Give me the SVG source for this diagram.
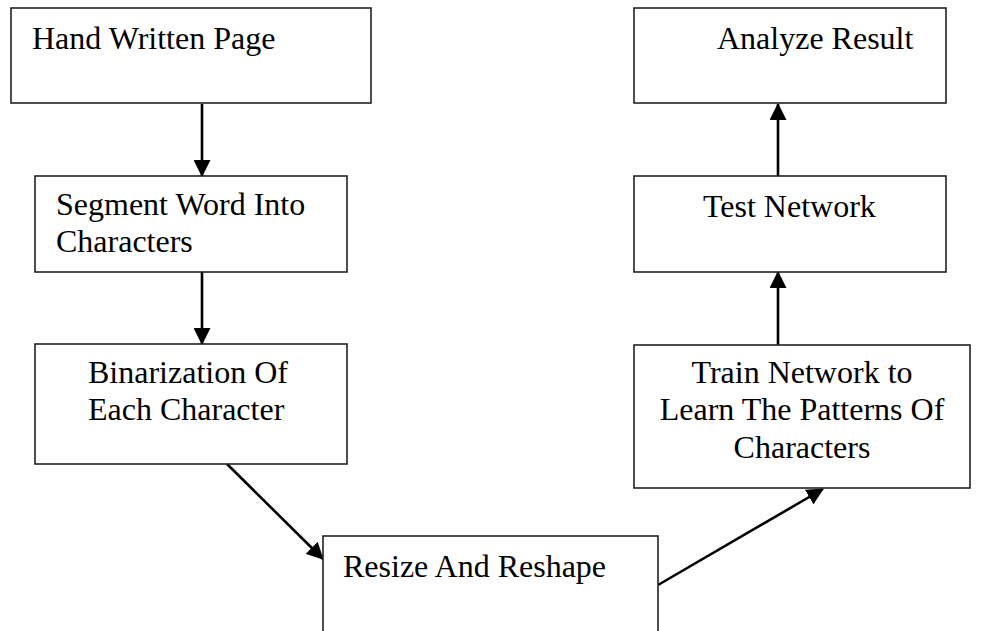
<svg xmlns="http://www.w3.org/2000/svg" width="984" height="631" viewBox="0 0 984 631">
  <defs>
    <style>
      .box { fill: #ffffff; stroke: #222222; stroke-width: 1.6; }
      .lbl { font-family: "Liberation Serif", "Times New Roman", serif; font-size: 32px; fill: #000000; }
      .mid { text-anchor: middle; }
      .edge { stroke: #000000; stroke-width: 2.6; fill: none; marker-end: url(#arrow); }
    </style>
    <marker id="arrow" markerWidth="17" markerHeight="17" viewBox="0 0 17 17" refX="16" refY="8.5" orient="auto" markerUnits="userSpaceOnUse">
      <path d="M0,0 L17,8.5 L0,17 Z" fill="#000000"/>
    </marker>
  </defs>
  <rect width="984" height="631" fill="#ffffff"/>

  <g id="connectors">
    <line class="edge" x1="202" y1="104" x2="202" y2="176"/>
    <line class="edge" x1="202" y1="272" x2="202" y2="344"/>
    <line class="edge" x1="227" y1="464" x2="323" y2="559"/>
    <line class="edge" x1="658" y1="585" x2="823" y2="489"/>
    <line class="edge" x1="778" y1="345" x2="778" y2="272"/>
    <line class="edge" x1="778" y1="176" x2="778" y2="104"/>
  </g>

  <g id="node-hand-written-page">
    <rect class="box" x="11" y="8" width="360" height="95"/>
    <text class="lbl" x="32" y="49">Hand Written Page</text>
  </g>

  <g id="node-segment">
    <rect class="box" x="35" y="176" width="312" height="96"/>
    <text class="lbl" x="56" y="215">Segment Word Into</text>
    <text class="lbl" x="56" y="252">Characters</text>
  </g>

  <g id="node-binarization">
    <rect class="box" x="35" y="344" width="312" height="120"/>
    <text class="lbl" x="88" y="383">Binarization Of</text>
    <text class="lbl" x="88" y="420">Each Character</text>
  </g>

  <g id="node-resize">
    <rect class="box" x="323" y="536" width="335" height="110"/>
    <text class="lbl" x="343" y="577">Resize And Reshape</text>
  </g>

  <g id="node-train">
    <rect class="box" x="634" y="345" width="336" height="143"/>
    <text class="lbl mid" x="802" y="383">Train Network to</text>
    <text class="lbl mid" x="802" y="420">Learn The Patterns Of</text>
    <text class="lbl mid" x="802" y="458">Characters</text>
  </g>

  <g id="node-test">
    <rect class="box" x="634" y="176" width="312" height="96"/>
    <text class="lbl" x="703" y="217">Test Network</text>
  </g>

  <g id="node-analyze">
    <rect class="box" x="634" y="8" width="312" height="95"/>
    <text class="lbl" x="717" y="49">Analyze Result</text>
  </g>
</svg>
